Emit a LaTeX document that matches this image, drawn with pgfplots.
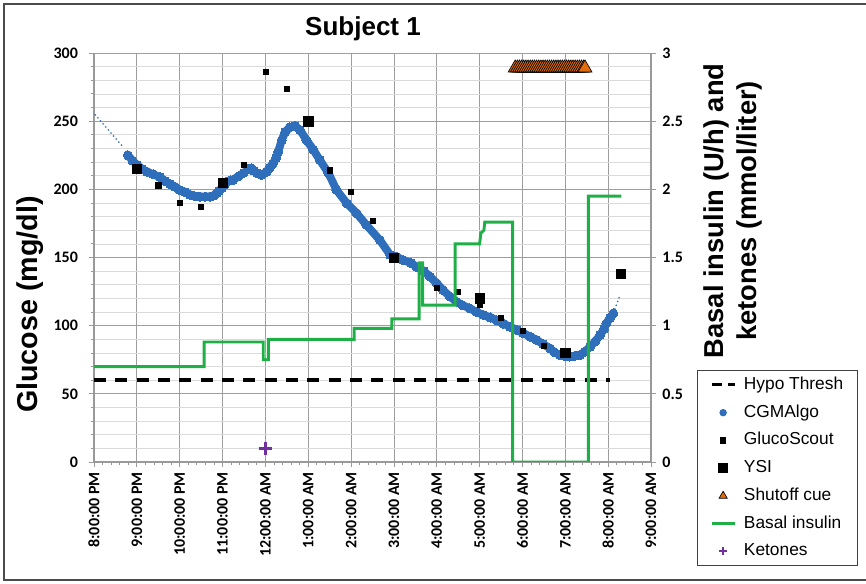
\documentclass[border=0pt]{standalone}
\usepackage{pgfplots}
\pgfplotsset{compat=1.18}
\usepackage{fontspec}
\setmainfont{Liberation Sans}
\newfontfamily\tickfont{Carlito}
\definecolor{cgmblue}{RGB}{47,110,186}
\definecolor{basalgreen}{RGB}{30,175,70}
\definecolor{cueorange}{RGB}{228,108,10}
\definecolor{ketpurple}{RGB}{112,48,160}
\begin{document}
\begin{tikzpicture}[x=1pt,y=1pt]
\useasboundingbox (0,0) rectangle (649.5,438);
\draw[black!70, line width=1.5pt] (649.5,435) -- (3,435) -- (3,3) -- (649.5,3);
\pgfplotsset{myaxis/.style={
  at={(70.5pt,91.5pt)}, anchor=south west, scale only axis,
  width=417.75pt, height=306.75pt, xmin=0, xmax=13,
  /pgf/number format/assume math mode=true,
  ticklabel style={font=\tickfont\bfseries\fontsize{12}{13}\selectfont},
  tick align=outside, major tick length=4pt, minor tick length=2.5pt,
  tick style={black!40, line width=0.6pt},
  axis line style={black!40, line width=0.8pt},
}}
\begin{axis}[myaxis,
  ymin=0, ymax=300, ytick={0,50,...,300}, minor y tick num=4,
  xtick={0,...,13}, minor x tick num=4,
  xticklabels={8:00:00 PM,9:00:00 PM,10:00:00 PM,11:00:00 PM,12:00:00 AM,1:00:00 AM,2:00:00 AM,3:00:00 AM,4:00:00 AM,5:00:00 AM,6:00:00 AM,7:00:00 AM,8:00:00 AM,9:00:00 AM},
  xticklabel style={rotate=90, anchor=east},
  yticklabel style={xshift=-4.5pt},
  axis x line*=bottom, axis y line*=left,
  xmajorgrids, ymajorgrids, yminorgrids,
  major grid style={black!38, line width=0.6pt},
  minor grid style={black!14, line width=0.5pt},
  title={Subject 1},
  title style={at={(axis description cs:0.483,1.04)}, anchor=center, font=\bfseries\fontsize{19.5}{22}\selectfont},
  ylabel={Glucose (mg/dl)},
  every axis y label/.style={at={(axis description cs:-0.115,0.385)}, anchor=center, rotate=90, font=\bfseries\fontsize{21.5}{24}\selectfont},
]
% Hypo threshold
\addplot[black, line width=3pt, dash pattern=on 9pt off 7pt] coordinates {(0,60) (12.05,60)};
% CGM trend (dotted extrapolations)
\addplot[cgmblue, line width=1pt, dash pattern=on 1pt off 2pt] coordinates {(0.02,255) (0.68,231)};
\addplot[cgmblue, line width=1pt, dash pattern=on 1pt off 2pt] coordinates {(12.12,109) (12.26,121)};
% CGMAlgo
\addplot[cgmblue, line width=6pt, line cap=round, line join=round, mark=*, mark size=3.4pt, mark options={fill=cgmblue, draw=cgmblue, line width=0pt}, unbounded coords=jump] coordinates {
(0.79,225) (0.9,221) (1.0,218) (1.12,215) (1.23,213) (1.38,211) (1.54,209) (1.66,206) (1.77,204) (1.88,202)
(2.0,199.5) (2.12,198) (2.24,196) (2.35,195) (2.47,194.6) (2.6,194.6) (2.71,194.6) (2.8,195.5) (2.86,197) (2.92,199)
(2.98,200.7) (3.05,203.5) (3.1,205.6) (3.18,206.5) (3.25,207) (3.37,209.5) (3.49,212)
(3.55,nan)
(3.6,215) (3.68,215.4) (3.74,213.5) (3.8,212) (3.91,210.5) (4.03,213) (4.1,216) (4.18,219) (4.25,223) (4.3,227.6)
(4.38,236) (4.46,242) (4.57,245.5) (4.69,246.5) (4.81,243.5) (4.96,236) (5.12,229) (5.27,221.5) (5.47,212) (5.66,199.5)
(5.9,189.8) (6.13,182.4) (6.36,173.8) (6.67,162.8) (6.91,152) (7.06,150.6) (7.22,148) (7.4,146) (7.53,143) (7.7,140)
(7.84,136) (8.0,131) (8.15,126) (8.3,121.5) (8.46,117.6) (8.6,115) (8.77,112.7) (8.93,110) (9.09,107.8) (9.25,106)
(9.4,104) (9.55,101.5) (9.71,99.2) (9.87,96.8) (10.02,94.4) (10.18,92) (10.33,89.5) (10.48,86.5) (10.64,83.4) (10.75,80.5)
(10.87,78.5) (11.0,77.5) (11.1,77.3) (11.22,77.8) (11.34,78.5) (11.46,81) (11.58,84.6) (11.7,88.5) (11.81,93) (11.9,97.5)
(11.96,101.7) (12.04,105.5) (12.12,109)
};
% GlucoScout
\addplot[only marks, mark=square*, mark size=1.9pt, mark options={fill=black, draw=black}] coordinates {
(1.5,203) (2.0,190) (2.5,187) (3.5,218) (4.0,286) (4.5,274) (5.5,214) (6.0,198) (6.5,177)
(8.0,128) (8.5,125) (9.0,115) (9.5,106) (10.0,96) (10.5,85)
};
% YSI
\addplot[only marks, mark=square*, mark size=3.5pt, mark options={fill=black, draw=black}] coordinates {
(1.0,215) (3.0,205) (5.0,250) (7.0,150) (9.0,120) (11.0,80) (12.29,138)
};
% Shutoff cue
\addplot[only marks, mark=triangle*, mark size=6pt, mark options={fill=cueorange, draw=black, line width=0.5pt}] coordinates {
(9.83,289) (9.88,289) (9.93,289) (9.98,289) (10.03,289) (10.08,289) (10.13,289) (10.18,289) (10.23,289) (10.28,289)
(10.33,289) (10.38,289) (10.43,289) (10.48,289) (10.53,289) (10.58,289) (10.63,289) (10.68,289) (10.73,289) (10.78,289)
(10.83,289) (10.88,289) (10.93,289) (10.98,289) (11.03,289) (11.08,289) (11.13,289) (11.18,289) (11.23,289) (11.28,289)
(11.33,289) (11.38,289) (11.43,289) (11.46,289)
};
\end{axis}
\begin{axis}[myaxis,
  ymin=0, ymax=3, ytick={0,0.5,...,3},
  axis y line*=right, axis x line=none,
  yticklabel style={xshift=1pt},
  ylabel={Basal insulin (U/h) and\\ketones (mmol/liter)},
  every axis y label/.style={at={(axis description cs:1.147,0.614)}, anchor=center, rotate=90, align=center, font=\bfseries\fontsize{20.5}{25}\selectfont},
  legend style={at={(1.0826,0.2249)}, anchor=north west, draw=black!75, line width=0.9pt,
    font=\fontsize{13}{15}\selectfont, cells={anchor=west}, row sep=5.3pt,
    inner xsep=9.5pt, inner ysep=3pt, nodes={inner sep=1.5pt, text height=9.6pt, text depth=2.9pt},
    /tikz/every odd column/.append style={column sep=4.5pt}},
]
\addlegendimage{black, line width=2.2pt, dash pattern=on 8pt off 4pt}
\addlegendentry{Hypo Thresh}
\addlegendimage{only marks, mark=*, mark size=2.3pt, mark options={fill=cgmblue, draw=cgmblue}}
\addlegendentry{CGMAlgo}
\addlegendimage{only marks, mark=square*, mark size=1.9pt, mark options={fill=black, draw=black}}
\addlegendentry{GlucoScout}
\addlegendimage{only marks, mark=square*, mark size=3.2pt, mark options={fill=black, draw=black}}
\addlegendentry{YSI}
\addlegendimage{only marks, mark=triangle*, mark size=3.5pt, mark options={fill=cueorange, draw=black, line width=0.5pt}}
\addlegendentry{Shutoff cue}
\addlegendimage{basalgreen, line width=2.2pt}
\addlegendentry{Basal insulin}
\addlegendimage{only marks, mark=+, mark size=3pt, mark options={draw=ketpurple, line width=1.3pt}}
\addlegendentry{Ketones}
% Basal insulin
\addplot[basalgreen, line width=2.2pt, forget plot] coordinates {
(0,0.70) (2.57,0.70) (2.57,0.88) (3.95,0.88) (3.95,0.75) (4.07,0.75) (4.07,0.90) (6.07,0.90) (6.07,0.98)
(6.95,0.98) (6.95,1.05) (7.59,1.05) (7.59,1.46) (7.67,1.46) (7.67,1.15) (8.43,1.15) (8.43,1.60) (9.0,1.60)
(9.03,1.68) (9.1,1.70) (9.12,1.76) (9.77,1.76) (9.77,0) (11.54,0) (11.54,1.95) (12.31,1.95)
};
% Ketones
\addplot[only marks, mark=+, mark size=5pt, mark options={draw=ketpurple, line width=1.8pt}, forget plot] coordinates {(4.0,0.1)};
\end{axis}
\end{tikzpicture}
\end{document}
